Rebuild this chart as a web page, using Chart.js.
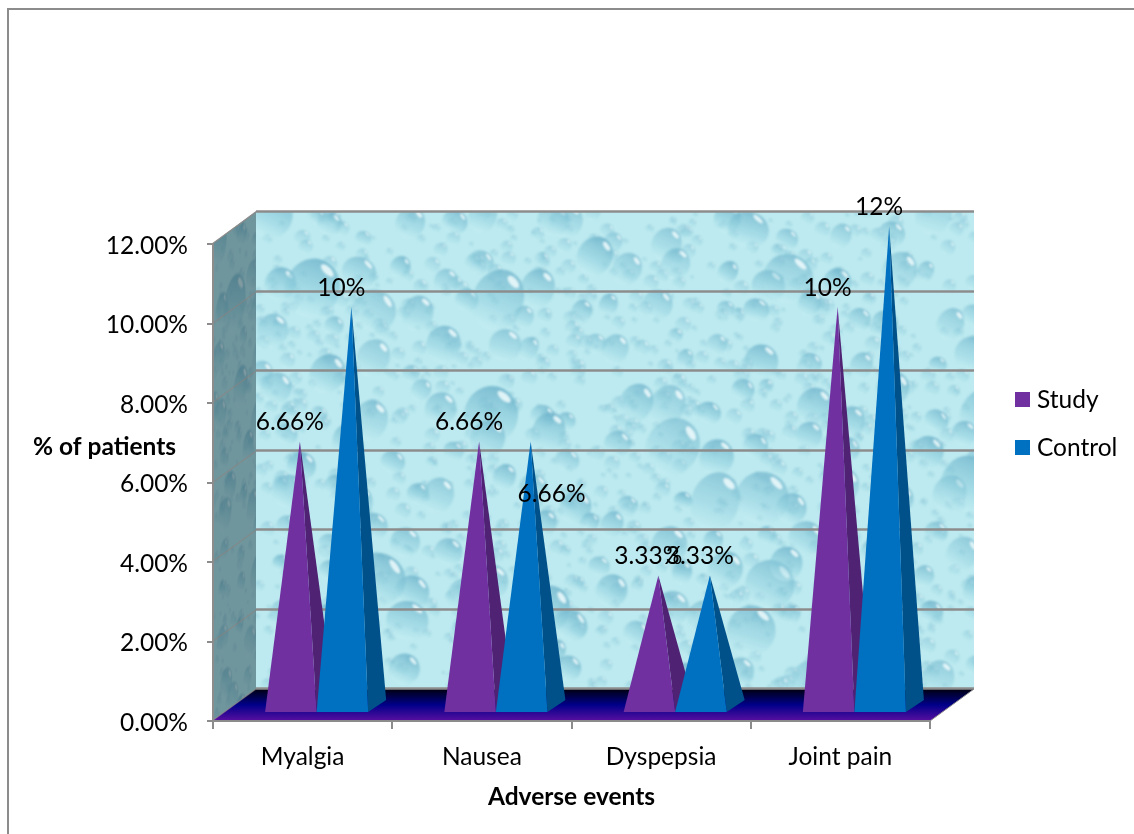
<!DOCTYPE html>
<html>
<head>
<meta charset="utf-8">
<title>Adverse events</title>
<script src="https://cdn.jsdelivr.net/npm/chart.js@4"></script>
<style>
    html, body { margin: 0; padding: 0; background: #fff; }
    canvas { display: block; }
</style>
</head>
<body>
<canvas id="chart" width="1134" height="834"></canvas>
<script>
/*  Data  */

const categories = ["Myalgia", "Nausea", "Dyspepsia", "Joint pain"];
const studyValues = [6.66, 6.66, 3.33, 10];
const controlValues = [10, 6.66, 3.33, 12];
const studyLabels = ["6.66%", "6.66%", "3.33%", "10%"];
const controlLabels = ["10%", "6.66%", "3.33%", "12%"];
const yTicks = [0, 2, 4, 6, 8, 10, 12];

const FONT = "Lato, 'Open Sans', sans-serif";
const TEXT_SIZE = 24.5;
const GREY = "#8c8c8c";
const DEPTH_X = 44, DEPTH_Y = 32;      // 3d offset of the back wall
const BAR_DX = 14, BAR_DY = 9;         // bars stand a bit inside the floor
const SIDE_X = 18, SIDE_Y = 12;        // depth of one pyramid


/*  Water drop texture for the walls  */

function makeTexture(w, h) {
    const c = document.createElement("canvas");
    c.width = w; c.height = h;
    const g = c.getContext("2d");
    g.fillStyle = "#bdeaf0";
    g.fillRect(0, 0, w, h);

    let seed = 4711;
    const rnd = () => { seed = (seed * 16807) % 2147483647; return seed / 2147483647; };

    function drop(x, y, rx, ry, strength) {
        g.save();
        g.translate(x, y);
        g.rotate(0.25 + rnd() * 0.35);
        const grad = g.createLinearGradient(0, -ry, 0, ry);
        grad.addColorStop(0, "rgba(105,175,200," + strength + ")");
        grad.addColorStop(0.6, "rgba(140,205,220," + strength * 0.65 + ")");
        grad.addColorStop(1, "rgba(205,243,247,0.35)");
        g.fillStyle = grad;
        g.beginPath();
        g.ellipse(0, 0, rx, ry, 0, 0, Math.PI * 2);
        g.fill();
        g.fillStyle = "rgba(240,252,253,0.85)";
        g.beginPath();
        g.ellipse(rx * 0.3, -ry * 0.72, rx * 0.3, ry * 0.12, 0.45, 0, Math.PI * 2);
        g.fill();
        g.restore();
    }

    g.filter = "blur(1px)";

    // fine speckle first
    for (let i = 0; i < 1100; i++) {
        const r = 2 + rnd() * 6;
        drop(rnd() * w, rnd() * h, r, r, 0.4);
    }

    // larger drops on a loose grid so they do not pile up
    const cell = 44;
    for (let gy = 0; gy < h + cell; gy += cell) {
        for (let gx = 0; gx < w + cell; gx += cell) {
            const rx = rnd() < 0.14 ? 20 + rnd() * 8 : 8 + rnd() * 10;
            const ry = rx * (0.85 + rnd() * 0.4);
            drop(gx + rnd() * cell * 0.8, gy + rnd() * cell * 0.8, rx, ry, 0.55 + rnd() * 0.25);
        }
    }
    g.filter = "none";
    return c;
}


/*  3d box behind the chart  */

const wallPlugin = {
    id: "walls",
    beforeDraw(chart) {
        const { ctx, chartArea: a, scales } = chart;
        const left = a.left - 1, right = a.right, top = a.top, bottom = a.bottom;
        const tex = makeTexture(right - left, bottom - top);

        ctx.save();

        // frame: only the top and left edges show
        ctx.fillStyle = GREY;
        ctx.fillRect(7, 8, chart.width - 7, 2);
        ctx.fillRect(7, 8, 2, chart.height - 8);

        // back wall
        ctx.drawImage(tex, left + DEPTH_X, top - DEPTH_Y - 1);

        // left wall, same picture sheared and darkened
        ctx.save();
        ctx.beginPath();
        ctx.moveTo(left, top);
        ctx.lineTo(left + DEPTH_X, top - DEPTH_Y - 1);
        ctx.lineTo(left + DEPTH_X, bottom - DEPTH_Y);
        ctx.lineTo(left, bottom);
        ctx.closePath();
        ctx.clip();
        ctx.transform(DEPTH_X / 110, -DEPTH_Y / 110, 0, 1, left, top);
        ctx.drawImage(tex, 0, 0);
        ctx.setTransform(1, 0, 0, 1, 0, 0);
        ctx.fillStyle = "rgba(50,80,90,0.55)";
        ctx.fillRect(left, top - 40, DEPTH_X, bottom - top + 40);
        ctx.restore();

        // floor
        const floor = ctx.createLinearGradient(0, bottom - DEPTH_Y, 0, bottom);
        floor.addColorStop(0, "#000010");
        floor.addColorStop(0.5, "#00008a");
        floor.addColorStop(1, "#5a0fa0");
        ctx.fillStyle = floor;
        ctx.beginPath();
        ctx.moveTo(left, bottom);
        ctx.lineTo(right, bottom);
        ctx.lineTo(right + DEPTH_X, bottom - DEPTH_Y);
        ctx.lineTo(left + DEPTH_X, bottom - DEPTH_Y);
        ctx.closePath();
        ctx.fill();

        // grid on both walls
        yTicks.forEach(v => {
            const y = Math.round(scales.y.getPixelForValue(v));
            ctx.strokeStyle = "rgba(140,130,125,0.55)";
            ctx.lineWidth = 1.5;
            ctx.beginPath();
            ctx.moveTo(left, y);
            ctx.lineTo(left + DEPTH_X, y - DEPTH_Y);
            ctx.stroke();

            ctx.strokeStyle = GREY;
            ctx.lineWidth = 2.5;
            ctx.beginPath();
            ctx.moveTo(left + DEPTH_X, y - DEPTH_Y - 0.5);
            ctx.lineTo(right + DEPTH_X, y - DEPTH_Y - 0.5);
            ctx.stroke();
        });

        ctx.strokeStyle = GREY;
        ctx.lineWidth = 1;
        ctx.beginPath();
        ctx.moveTo(left, top);
        ctx.lineTo(left + DEPTH_X, top - DEPTH_Y);
        ctx.moveTo(right, bottom);
        ctx.lineTo(right + DEPTH_X, bottom - DEPTH_Y);
        ctx.stroke();

        ctx.restore();
    }
};


/*  Pyramids, drawn from the bar elements  */

const SIDE_COLORS = ["#4f2273", "#00518a"];
const LABEL_SHIFT = [
    [[0, 0], [0, 0], [0, 0], [0, 0]],
    [[0, 0], [31, 72], [0, 0], [0, 0]]
];

function peakY(bar, zero) {
    return zero - BAR_DY - (zero - bar.y) * 1.0125 - 2.5;
}

const pyramidPlugin = {
    id: "pyramids",
    beforeDatasetDraw() {
        return false;   // the flat bars are replaced below
    },
    beforeDatasetsDraw(chart) {
        const { ctx, scales, data } = chart;
        const zero = scales.y.getPixelForValue(0);

        data.datasets.forEach((ds, d) => {
            chart.getDatasetMeta(d).data.forEach(bar => {
                const w = bar.width;
                const x0 = bar.x - w / 2 + BAR_DX, x1 = bar.x + w / 2 + BAR_DX;
                const base = zero - BAR_DY;
                const px = bar.x + BAR_DX + SIDE_X / 2;
                const py = peakY(bar, zero);

                ctx.fillStyle = SIDE_COLORS[d];
                ctx.beginPath();
                ctx.moveTo(x1, base);
                ctx.lineTo(x1 + SIDE_X, base - SIDE_Y);
                ctx.lineTo(px, py);
                ctx.closePath();
                ctx.fill();

                ctx.fillStyle = ds.backgroundColor;
                ctx.beginPath();
                ctx.moveTo(x0, base);
                ctx.lineTo(x1, base);
                ctx.lineTo(px, py);
                ctx.closePath();
                ctx.fill();
            });
        });
    },
    afterDatasetsDraw(chart) {
        const { ctx, scales, data } = chart;
        const zero = scales.y.getPixelForValue(0);

        ctx.save();
        ctx.fillStyle = "#000";
        ctx.textAlign = "center";
        ctx.textBaseline = "middle";
        ctx.font = TEXT_SIZE + "px " + FONT;
        data.datasets.forEach((ds, d) => {
            chart.getDatasetMeta(d).data.forEach((bar, i) => {
                const shift = LABEL_SHIFT[d][i];
                ctx.fillText(ds.pointLabels[i], bar.x + 13 + shift[0], peakY(bar, zero) - 19 + shift[1]);
            });
        });

        // value axis title stays horizontal in this picture
        ctx.font = "bold 24.5px " + FONT;
        ctx.fillText("% of patients", 104.5, scales.y.getPixelForValue(6.9));

        // legend
        ctx.textAlign = "left";
        ctx.font = TEXT_SIZE + "px " + FONT;
        data.datasets.forEach((ds, d) => {
            const y = 400 + d * 48;
            ctx.fillStyle = ds.backgroundColor;
            ctx.fillRect(1015, y - 8, 15, 15);
            ctx.fillStyle = "#000";
            ctx.fillText(ds.label, 1037, y);
        });
        ctx.restore();
    }
};


/*  Chart  */

new Chart(document.getElementById("chart"), {
    type: "bar",
    data: {
        labels: categories,
        datasets: [
            { label: "Study", data: studyValues, pointLabels: studyLabels, backgroundColor: "#7030a0" },
            { label: "Control", data: controlValues, pointLabels: controlLabels, backgroundColor: "#0070c0" }
        ]
    },
    options: {
        responsive: false,
        animation: false,
        categoryPercentage: 0.575,
        barPercentage: 1,
        layout: { padding: { left: 0, top: 244, right: 204, bottom: 22 } },
        plugins: {
            tooltip: { enabled: false },
            legend: { display: false }
        },
        scales: {
            x: {
                afterFit: s => { s.height = 91; },
                border: { color: GREY, width: 2 },
                grid: { drawOnChartArea: false, color: GREY, tickLength: 8, lineWidth: 2 },
                ticks: { color: "#000", padding: 13, maxRotation: 0, font: { family: FONT, size: TEXT_SIZE } },
                title: {
                    display: true,
                    text: "Adverse events",
                    color: "#000",
                    padding: 0,
                    font: { family: FONT, size: 24.5, weight: "bold" }
                }
            },
            y: {
                min: 0,
                max: 12,
                afterFit: s => { s.width = 213; },
                afterBuildTicks: s => { s.ticks = yTicks.map(v => ({ value: v })); },
                border: { color: GREY, width: 2 },
                grid: { drawOnChartArea: false, color: GREY, tickLength: 6, lineWidth: 2 },
                ticks: {
                    color: "#000",
                    padding: 19,
                    labelOffset: 2,
                    font: { family: FONT, size: TEXT_SIZE },
                    callback: v => v.toFixed(2) + "%"
                }
            }
        }
    },
    plugins: [wallPlugin, pyramidPlugin]
});
</script>
</body>
</html>
